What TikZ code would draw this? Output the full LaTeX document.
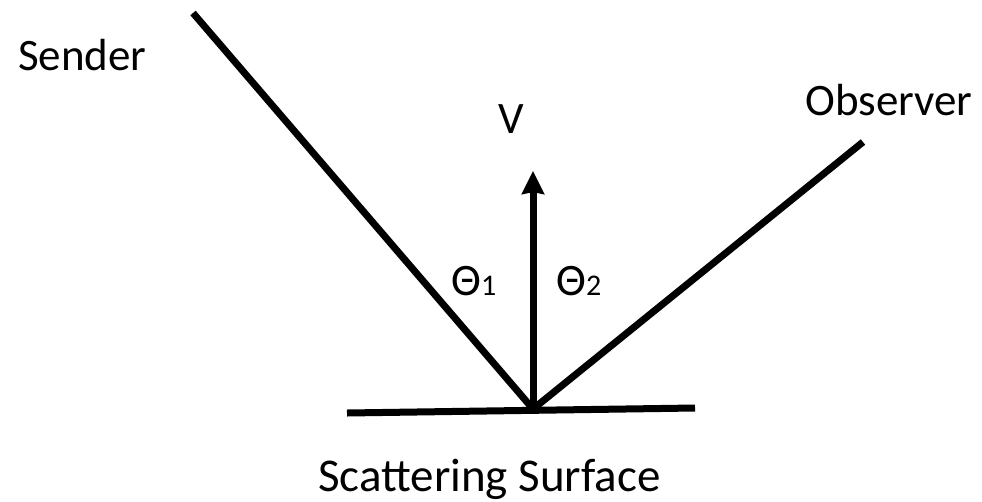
\documentclass[tikz,border=0pt]{standalone}
\usepackage{fontspec}
\setmainfont{Carlito}
\usetikzlibrary{arrows.meta}
\begin{document}
\begin{tikzpicture}[x=1pt,y=-1pt,
  bar/.style={line width=7pt,black},
  lbl/.style={inner sep=0pt,font=\fontsize{45}{54}\selectfont}]
\useasboundingbox (0,0) rectangle (982,501);
\coordinate (p) at (533,409);
\coordinate (s) at (193,13);
\coordinate (o) at (863,142);
\coordinate (sl) at (347,413);
\coordinate (sr) at (695,408);
\coordinate (v) at (533,171);
\draw[bar] (s) -- (p);
\draw[bar] (p) -- (o);
\draw[bar] (sl) -- (sr);
\draw[bar,-{Stealth[length=23pt,width=22pt,inset=2pt]}] (p) -- (v);
\node[lbl,anchor=base west] (sender) at (18,70) {Sender};
\node[lbl,anchor=base west] (observer) at (805,115) {Observer};
\node[lbl,anchor=base] (vlab) at (511,133) {V};
\node[lbl,anchor=base west] (t1) at (451,295) {Θ{\fontsize{30}{30}\selectfont 1}};
\node[lbl,anchor=base west] (t2) at (556,295) {Θ{\fontsize{30}{30}\selectfont 2}};
\node[lbl,anchor=base west,font=\fontsize{47}{56}\selectfont] (surf) at (318,491) {Scattering Surface};
\end{tikzpicture}
\end{document}
